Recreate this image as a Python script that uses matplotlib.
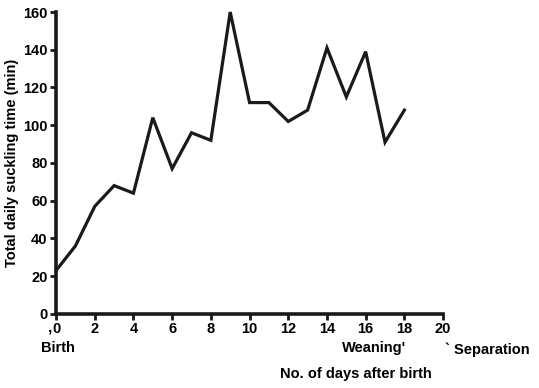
import matplotlib
matplotlib.use("Agg")
import matplotlib.pyplot as plt

# Tagesdaten (Tage nach Geburt) und Saugzeit in min
days = list(range(0, 19))
suckling = [23, 36, 57, 68, 64, 104, 77, 96, 92, 160, 112, 112, 102, 108, 141, 115, 139, 91, 108]
xticks = [0, 2, 4, 6, 8, 10, 12, 14, 16, 18, 20]
yticks = [0, 20, 40, 60, 80, 100, 120, 140, 160]

plt.rcParams['font.family'] = ['Liberation Sans', 'DejaVu Sans']
plt.rcParams['font.weight'] = 'bold'

fig = plt.figure(figsize=(5.39, 3.88), dpi=100)
ax = fig.add_axes([0.104, 0.191, 0.718, 0.778])

ax.plot(days, suckling, color='#1a1a1a', linewidth=2.3, solid_joinstyle='miter', clip_on=False)

ax.set_xlim(0, 20)
ax.set_ylim(0, 160)
ax.set_xticks(xticks)
ax.set_yticks(yticks)
ax.tick_params(axis='both', direction='out', length=4, width=2, labelsize=10.5, pad=2, color='#1a1a1a')
for lab in ax.get_xticklabels() + ax.get_yticklabels():
    lab.set_fontweight('bold')

ax.spines['top'].set_visible(False)
ax.spines['right'].set_visible(False)
ax.spines['left'].set_linewidth(2.6)
ax.spines['bottom'].set_linewidth(2.6)
ax.spines['left'].set_color('#1a1a1a')
ax.spines['bottom'].set_color('#1a1a1a')

ax.set_ylabel("Total daily suckling time (min)", fontsize=10.5, fontweight='bold', labelpad=3)

# Zusatzbeschriftungen unter der x-Achse
ax.text(-0.3, -7, ",", ha='center', va='center', fontsize=11, fontweight='bold', clip_on=False)
ax.text(0.1, -18, "Birth", ha='center', va='center', fontsize=10.5, fontweight='bold')
ax.text(18.1, -18, "Weaning'", ha='right', va='center', fontsize=10.5, fontweight='bold')
ax.text(20.1, -19, "` Separation", ha='left', va='center', fontsize=10.5, fontweight='bold')
ax.text(15.5, -32, "No. of days after birth", ha='center', va='center', fontsize=10.5, fontweight='bold')

fig.savefig("out.png", dpi=100)
